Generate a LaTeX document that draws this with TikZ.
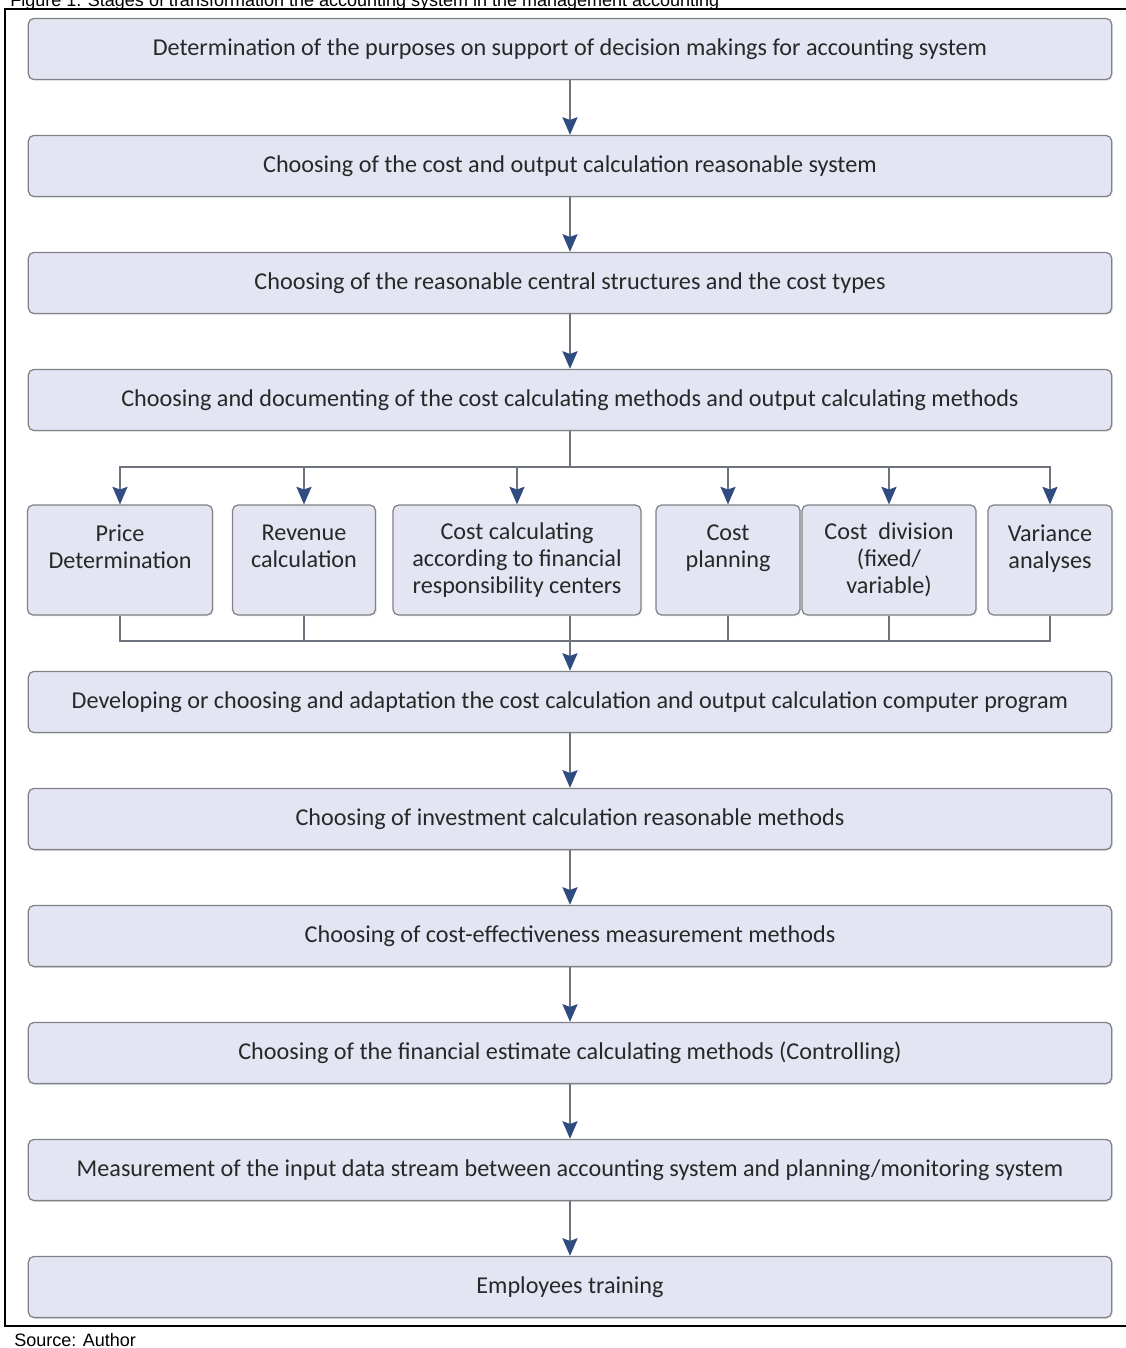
\documentclass[tikz,border=0pt]{standalone}
\usepackage{fontspec}
\setmainfont{Carlito}
\newfontfamily\captionfont{Liberation Sans}
\usetikzlibrary{arrows.meta, positioning, shadows}
\definecolor{boxfill}{RGB}{227,229,242}
\definecolor{boxdraw}{RGB}{128,130,136}
\definecolor{tipblue}{RGB}{47,76,128}
\definecolor{linegray}{RGB}{110,115,125}
\definecolor{textgray}{RGB}{40,40,40}
\tikzset{
    stagebox/.style={rectangle, draw=boxdraw, fill=boxfill, rounded corners=4pt, minimum width=27.075cm, minimum height=1.53cm, align=center, text=textgray, font=\fontsize{17.2}{19.2}\selectfont, line width=0.9pt, drop shadow={opacity=0.12, shadow xshift=1pt, shadow yshift=-1pt}},
    subbox/.style={stagebox, minimum width=#1, minimum height=2.75cm},
    flowarrow/.style={-{Stealth[length=4.4mm, width=3.8mm, inset=0.7mm, color=tipblue]}, draw=linegray, line width=0.8pt},
    flowline/.style={draw=linegray, line width=0.8pt},
    notetext/.style={font=\captionfont\fontsize{12.8}{15}\selectfont, inner sep=0pt}
}

\begin{document}
\begin{tikzpicture}[x=0.025cm, y=-0.025cm]
\useasboundingbox (0,0) rectangle (1125,1348);

% frame and notes
\draw[line width=1.4pt] (5,9) rectangle (1130,1326);
\node[notetext, anchor=base west] (caption) at (10,7) {Figure 1. Stages of transformation the accounting system in the management accounting};
\node[notetext, anchor=base west] (source) at (14,1346) {Source: Author};

% main stages
\node[stagebox] (s1) at (570,49) {Determination of the purposes on support of decision makings for accounting system};
\node[stagebox] (s2) at (570,166) {Choosing of the cost and output calculation reasonable system};
\node[stagebox] (s3) at (570,283) {Choosing of the reasonable central structures and the cost types};
\node[stagebox] (s4) at (570,400) {Choosing and documenting of the cost calculating methods and output calculating methods};

% sub tasks
\node[subbox=4.625cm] (price) at (120,560) {Price\\Determination\\~};
\node[subbox=3.575cm] (revenue) at (304,560) {Revenue\\calculation\\~};
\node[subbox=6.2cm] (costcalc) at (517,560) {Cost calculating\\according to financial\\responsibility centers};
\node[subbox=3.6cm] (costplan) at (728,560) {Cost\\planning\\~};
\node[subbox=4.35cm] (costdiv) at (889,560) {Cost\ \ division\\(fixed/\\variable)};
\node[subbox=3.1cm] (variance) at (1050,560) {Variance\\analyses\\~};

\node[stagebox] (s5) at (570,702) {Developing or choosing and adaptation the cost calculation and output calculation computer program};
\node[stagebox] (s6) at (570,819) {Choosing of investment calculation reasonable methods};
\node[stagebox] (s7) at (570,936) {Choosing of cost-effectiveness measurement methods};
\node[stagebox] (s8) at (570,1053) {Choosing of the financial estimate calculating methods (Controlling)};
\node[stagebox] (s9) at (570,1170) {Measurement of the input data stream between accounting system and planning/monitoring system};
\node[stagebox] (s10) at (570,1287) {Employees training};

\coordinate (split) at (570,467);
\coordinate (merge) at (570,641);

\foreach \a/\b in {s1/s2, s2/s3, s3/s4, s5/s6, s6/s7, s7/s8, s8/s9, s9/s10}
    \draw[flowarrow] (\a) -- (\b);

\draw[flowline] (s4) -- (split);
\foreach \n in {price, revenue, costcalc, costplan, costdiv, variance}
    \draw[flowarrow] (split) -| (\n);

\foreach \n in {price, revenue, costplan, costdiv, variance}
    \draw[flowline] (\n) |- (merge);
\draw[flowarrow] (costcalc.south -| merge) -- (s5);

\end{tikzpicture}
\end{document}
